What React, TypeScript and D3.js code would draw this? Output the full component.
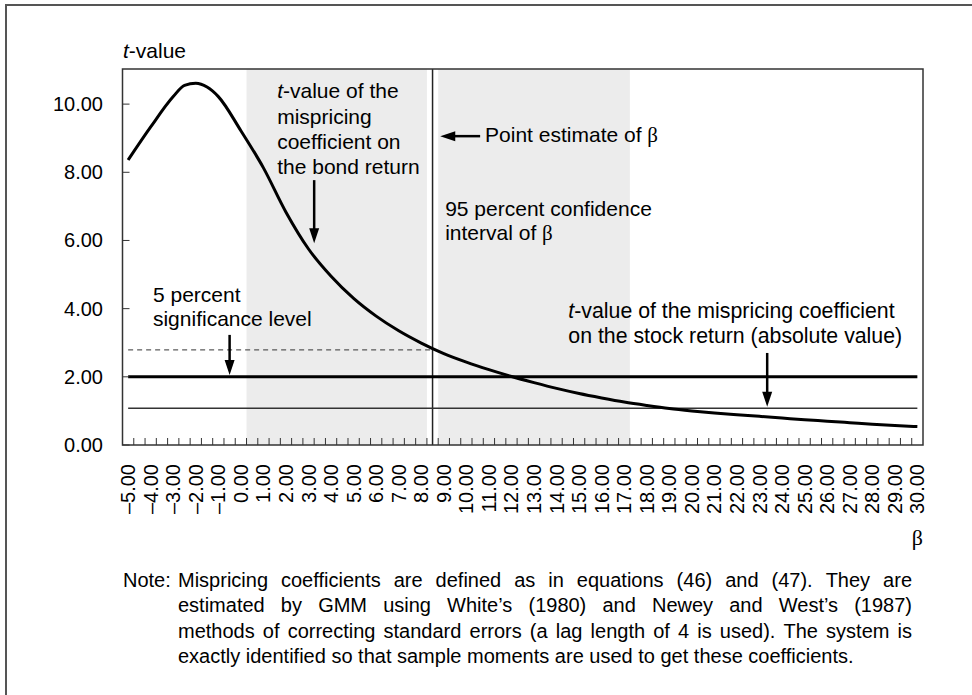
import React from 'react';
import * as d3 from 'd3';

// β grid and t-value of the mispricing coefficient on the bond return
const betaValues = [-5, -4, -3, -2.5, -2, -1.5, -1, 0, 1, 2, 3, 4, 5, 6, 7, 8, 9, 10, 11, 12, 13, 14, 15,
  16, 17, 18, 19, 20, 21, 22, 23, 24, 25, 26, 27, 28, 29, 30];
const bondTValues = [8.36, 9.33, 10.22, 10.55, 10.61, 10.5, 10.22, 9.22, 8.13, 6.83, 5.75, 4.95, 4.3, 3.78,
  3.35, 2.99, 2.68, 2.43, 2.21, 2.01, 1.83, 1.66, 1.51, 1.38, 1.26, 1.16, 1.07, 1.0, 0.94, 0.89, 0.84,
  0.79, 0.74, 0.7, 0.655, 0.61, 0.57, 0.54];

const yTicks = [0, 2, 4, 6, 8, 10];
const xTickLabels = d3.range(-5, 31, 1);
const xMinorTicks = d3.range(-4.75, 30, 0.5);

const significanceLevel = 2.0;
const stockTValue = 1.08; // |t| of the mispricing coefficient on the stock return
const bondTAtEstimate = 2.79;
const pointEstimate = 8.5;
const confidenceBands = [[0.25, 8.25], [8.75, 17.25]];

const noteLines = [
  'Mispricing coefficients are defined as in equations (46) and (47). They are',
  'estimated by GMM using White\u2019s (1980) and Newey and West\u2019s (1987)',
  'methods of correcting standard errors (a lag length of 4 is used). The system is',
  'exactly identified so that sample moments are used to get these coefficients.',
];

const W = 972;
const H = 695;
const plot = { left: 122.5, right: 923, top: 69, bottom: 445 };
const sans = '"Liberation Sans", Arial, Helvetica, sans-serif';
const serif = '"Liberation Serif", "Times New Roman", serif';
const noteSize = 20;
const noteLeft = 178;
const noteRight = 912;

const Beta = () => <tspan fontFamily={serif}>β</tspan>;
const T = () => <tspan fontStyle="italic">t</tspan>;

// text width through a canvas, used to justify the note
const ctx = typeof document !== 'undefined' ? document.createElement('canvas').getContext('2d') : null;
function textWidth(s: string, size: number) {
  if (!ctx) return s.length * size * 0.5;
  ctx.font = `${size}px "Liberation Sans", Arial, sans-serif`;
  return ctx.measureText(s).width;
}

function Arrow({ x1, y1, x2, y2 }: { x1: number; y1: number; x2: number; y2: number }) {
  const len = Math.hypot(x2 - x1, y2 - y1);
  const ux = (x2 - x1) / len;
  const uy = (y2 - y1) / len;
  const hl = 15, hw = 5;
  const bx = x2 - ux * hl;
  const by = y2 - uy * hl;
  const pts = [[x2, y2], [bx - uy * hw, by + ux * hw], [bx + uy * hw, by - ux * hw]];
  return (
    <g>
      <line x1={x1} y1={y1} x2={bx + ux * 2} y2={by + uy * 2} stroke="#000" strokeWidth={2.5} />
      <polygon points={pts.map(p => p.join(',')).join(' ')} fill="#000" />
    </g>
  );
}

function NoteLine({ text, y, justify }: { text: string; y: number; justify: boolean }) {
  const words = text.split(' ');
  const widths = words.map(w => textWidth(w, noteSize));
  const total = d3.sum(widths);
  const gap = justify ? (noteRight - noteLeft - total) / (words.length - 1) : textWidth(' ', noteSize);
  let cx = noteLeft;
  return (
    <text y={y}>
      {words.map((w, i) => {
        const px = cx;
        cx += widths[i] + gap;
        return <tspan key={i} x={px}>{w}</tspan>;
      })}
    </text>
  );
}

export default function App() {
  const x = d3.scaleLinear().domain([-5.25, 30.25]).range([plot.left, plot.right]);
  const y = d3.scaleLinear().domain([0, 11.03]).range([plot.bottom, plot.top]);

  const curve = d3.line<number>()
    .x((_, i) => x(betaValues[i]))
    .y(d => y(d))
    .curve(d3.curveMonotoneX);

  const fmt = (v: number) => d3.format('.2f')(v).replace('\u2212', '\u2013').replace('-', '\u2013');
  const xFirst = x(xTickLabels[0]);
  const xLast = x(xTickLabels[xTickLabels.length - 1]);

  return (
    <svg width={W} height={H} style={{ position: 'absolute', left: 0, top: 0, background: '#fff' }}
      fontFamily={sans}>
      <rect x={6} y={5} width={990} height={710} fill="none" stroke="#555" strokeWidth={2} />

      {/* confidence interval shading */}
      {confidenceBands.map(([a, b], i) => (
        <rect key={i} x={x(a)} y={plot.top} width={x(b) - x(a)} height={plot.bottom - plot.top} fill="#ececec" />
      ))}

      {/* point estimate */}
      <line x1={x(pointEstimate)} x2={x(pointEstimate)} y1={plot.top} y2={plot.bottom} stroke="#222" strokeWidth={1.5} />

      {/* reference lines */}
      <line x1={xFirst} x2={x(pointEstimate)} y1={y(bondTAtEstimate)} y2={y(bondTAtEstimate)}
        stroke="#333" strokeWidth={1} strokeDasharray="5,4" />
      <line x1={xFirst} x2={xLast} y1={y(stockTValue)} y2={y(stockTValue)} stroke="#333" strokeWidth={1.6} />
      <line x1={xFirst} x2={xLast} y1={y(significanceLevel)} y2={y(significanceLevel)} stroke="#000" strokeWidth={3} />

      <path d={curve(bondTValues) || ''} fill="none" stroke="#000" strokeWidth={3} />

      {/* frame and ticks */}
      <rect x={plot.left} y={plot.top} width={plot.right - plot.left} height={plot.bottom - plot.top}
        fill="none" stroke="#333" strokeWidth={1.5} />
      {xMinorTicks.map(v => (
        <line key={v} x1={x(v)} x2={x(v)} y1={plot.bottom} y2={plot.bottom - 7} stroke="#333" strokeWidth={1} />
      ))}
      {yTicks.map(v => (
        <g key={v}>
          <line x1={plot.left} x2={plot.left + 7} y1={y(v)} y2={y(v)} stroke="#333" strokeWidth={1} />
          <text x={103} y={y(v)} dy="0.35em" textAnchor="end" fontSize={20}>{fmt(v)}</text>
        </g>
      ))}
      {xTickLabels.map(v => (
        <text key={v} transform={`translate(${x(v)},${464}) rotate(-90)`} dy="0.35em" textAnchor="end" fontSize={20}>
          {fmt(v)}
        </text>
      ))}

      <text x={123} y={58} fontSize={21}><T />-value</text>
      <text x={plot.right} y={545} textAnchor="end" fontSize={22} fontFamily={serif}>β</text>

      {/* annotations */}
      <text x={x(1.61)} y={y(10.17)} fontSize={21}>
        <tspan x={x(1.61)}><T />-value of the</tspan>
        <tspan x={x(1.61)} dy={25.3}>mispricing</tspan>
        <tspan x={x(1.61)} dy={25.3}>coefficient on</tspan>
        <tspan x={x(1.61)} dy={25.3}>the bond return</tspan>
      </text>
      <Arrow x1={x(3.25)} y1={y(7.77)} x2={x(3.25)} y2={y(5.92)} />

      <text x={x(10.83)} y={y(8.89)} fontSize={21}>Point estimate of <Beta /></text>
      <Arrow x1={x(10.61)} y1={y(9.06)} x2={x(8.84)} y2={y(9.06)} />

      <text x={x(9.06)} y={y(6.72)} fontSize={21}>
        <tspan x={x(9.06)}>95 percent confidence</tspan>
        <tspan x={x(9.06)} dy={24}>interval of <Beta /></tspan>
      </text>

      <text x={x(14.52)} y={y(3.72)} fontSize={21.3}>
        <tspan x={x(14.52)}><T />-value of the mispricing coefficient</tspan>
        <tspan x={x(14.52)} dy={25}>on the stock return (absolute value)</tspan>
      </text>
      <Arrow x1={x(23.34)} y1={y(2.7)} x2={x(23.34)} y2={y(1.12)} />

      <text x={x(-3.9)} y={y(4.19)} fontSize={21}>
        <tspan x={x(-3.9)}>5 percent</tspan>
        <tspan x={x(-3.9)} dy={24}>significance level</tspan>
      </text>
      <Arrow x1={x(-0.5)} y1={y(3.23)} x2={x(-0.5)} y2={y(2.05)} />

      {/* note */}
      <g fontSize={noteSize}>
        <text x={123} y={587}>Note:</text>
        {noteLines.map((s, i) => (
          <NoteLine key={i} text={s} y={587 + i * 25.3} justify={i < noteLines.length - 1} />
        ))}
      </g>
    </svg>
  );
}
